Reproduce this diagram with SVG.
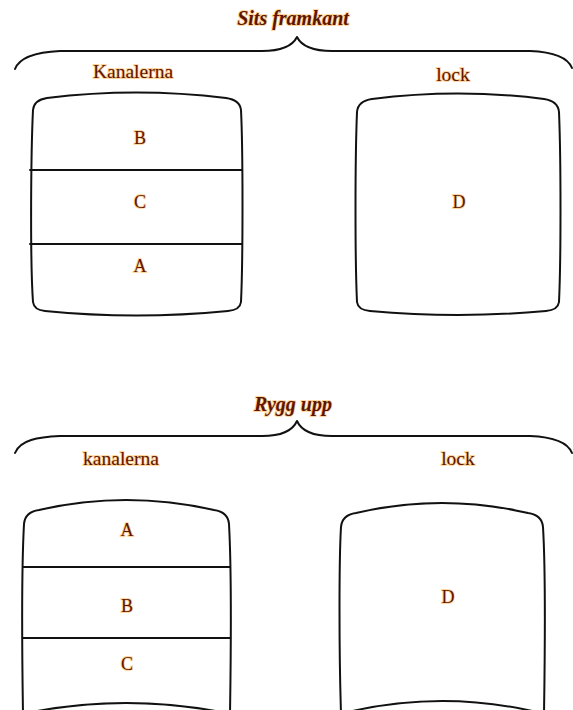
<svg xmlns="http://www.w3.org/2000/svg" width="573" height="710" viewBox="0 0 573 710">
<style>
.ln{fill:none;stroke:#111;stroke-width:2;stroke-linecap:round;stroke-linejoin:round}
.box{fill:#fff;stroke:#111;stroke-width:2}
.t{font-family:"Liberation Serif","Times New Roman",serif;font-size:19.5px;fill:#5e1500;stroke:#ffa21f;stroke-width:2;stroke-opacity:0.45;paint-order:stroke;text-anchor:middle}
.h{font-weight:bold;font-style:italic;font-size:20px}
.l{font-size:18px}
</style>
<rect width="573" height="710" fill="#fff"/>
<g id="title-top"><text class="t h" x="293" y="25">Sits framkant</text></g>
<g id="brace-top"><path class="ln" d="M15,69 C20,56 38,52 60,51 L262,51 C284,51 293,45 297,37 C301,45 310,51 332,51 L530,51 C555,52 568,58 572,68"/></g>
<g id="label-kanalerna-top"><text class="t" x="133" y="78">Kanalerna</text></g>
<g id="label-lock-top"><text class="t" x="453" y="81">lock</text></g>
<g id="box-left-top">
<path class="box" d="M33,110 C31,150 30,260 33,302 Q34,310 45,311 Q136,320 228,311 Q240,310 241,302 C243,260 243,150 241,110 Q240,100 226,98 Q136,87 47,98 Q34,100 33,110 Z"/>
<path class="ln" d="M30,170 L242,170 M30,244 L242,244"/>
<text class="t l" x="140" y="144">B</text>
<text class="t l" x="140" y="208">C</text>
<text class="t l" x="140" y="272">A</text>
</g>
<g id="box-right-top">
<path class="box" d="M357,112 C355,160 355,260 357,302 Q358,310 370,311 Q458,319 546,311 Q558,310 559,302 C561,260 561,160 559,112 Q558,101 544,99 Q458,88 372,99 Q358,101 357,112 Z"/>
<text class="t l" x="459" y="208">D</text>
</g>
<g id="title-bottom"><text class="t h" x="293" y="411">Rygg upp</text></g>
<g id="brace-bottom"><path class="ln" d="M15,453 C20,440 38,437 60,436 L262,436 C284,436 293,430 297,421 C301,430 310,436 332,436 L530,436 C555,437 568,443 572,453"/></g>
<g id="label-kanalerna-bottom"><text class="t" x="121" y="465">kanalerna</text></g>
<g id="label-lock-bottom"><text class="t" x="458" y="465">lock</text></g>
<g id="box-left-bottom">
<path class="box" d="M23,714 C22,650 22,560 24,524 Q25,512 39,510 Q126,490 214,510 Q228,512 229,524 C231,560 231,650 230,714"/>
<path class="ln" d="M23,567 L230,567 M23,638 L230,638 M22,714 Q126,692 231,714"/>
<text class="t l" x="127" y="536">A</text>
<text class="t l" x="127" y="612">B</text>
<text class="t l" x="127" y="670">C</text>
</g>
<g id="box-right-bottom">
<path class="box" d="M341,714 C339,650 339,560 341,527 Q342,515 356,513 Q442,493 528,513 Q542,515 543,527 C545,560 545,650 544,714"/>
<path class="ln" d="M340,714 Q442,688 545,714"/>
<text class="t l" x="448" y="603">D</text>
</g>
</svg>
